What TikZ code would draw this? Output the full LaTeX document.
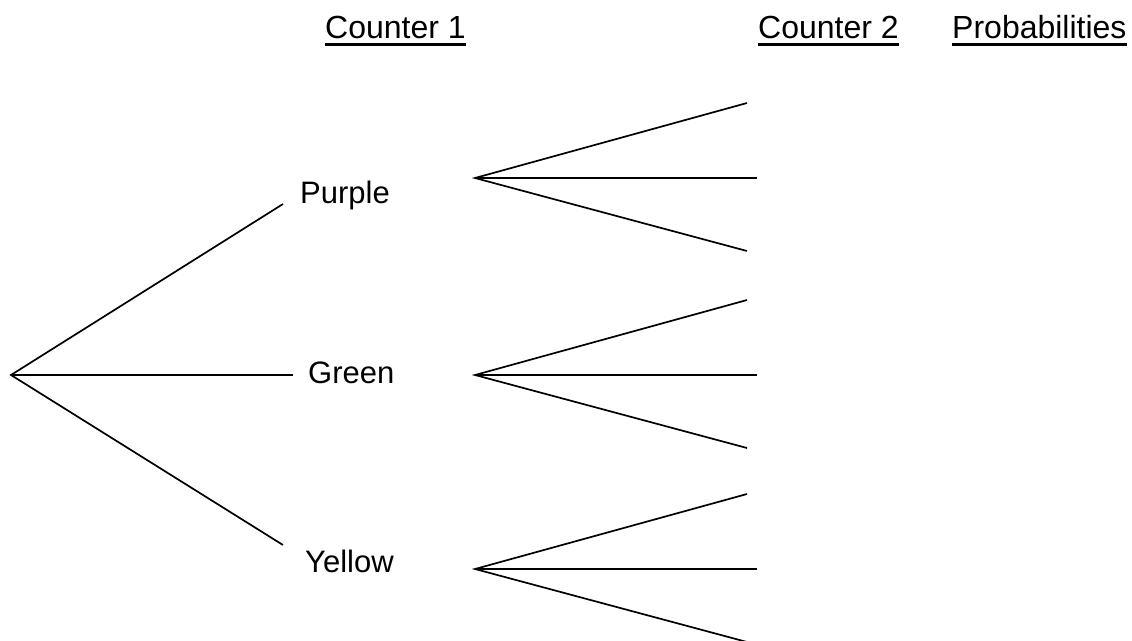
\documentclass[tikz,border=0pt]{standalone}
\usepackage{fontspec}
\setmainfont{Liberation Sans}
\usepackage{tikz}
\tikzset {
    branch/.style={line width=1.7pt},
    uline/.style={line width=3pt},
    lbl/.style={font=\fontsize{31}{37}\selectfont, inner sep=0pt, anchor=base west},
    head/.style={lbl, font=\fontsize{32}{38}\selectfont}
}

\begin{document}
\begin{tikzpicture}[x=1pt, y=-1pt]
\useasboundingbox (0,0) rectangle (1132,640);
\clip (0,0) rectangle (1132,640);

% column headings
\node[head] (head1) at (325,38) {Counter 1};
\node[head] (head2) at (758,38) {Counter 2};
\node[head] (head3) at (952,38) {Probabilities};
\foreach \h in {head1, head2, head3} {
    \draw[uline] ([yshift=-6pt]\h.base west) -- ([yshift=-6pt]\h.base east);
}

% first counter
\coordinate (root) at (11,375);
\coordinate (purple-end) at (283,204);
\coordinate (green-end) at (293,375);
\coordinate (yellow-end) at (283,545);
\node[lbl] (purple) at (300,203) {Purple};
\node[lbl] (green) at (308,383) {Green};
\node[lbl] (yellow) at (305,572) {Yellow};
\draw[branch] (purple-end) -- (root) -- (yellow-end);
\draw[branch] (root) -- (green-end);

% second counter
\foreach \s/\y in {purple/178, green/375, yellow/569} {
    \coordinate (\s-fan) at (475,\y);
    \coordinate (\s-top) at (747,\y-75);
    \coordinate (\s-mid) at (757,\y);
    \coordinate (\s-bot) at (747,\y+73);
    \draw[branch] (\s-top) -- (\s-fan) -- (\s-bot);
    \draw[branch] (\s-fan) -- (\s-mid);
}

\end{tikzpicture}
\end{document}
